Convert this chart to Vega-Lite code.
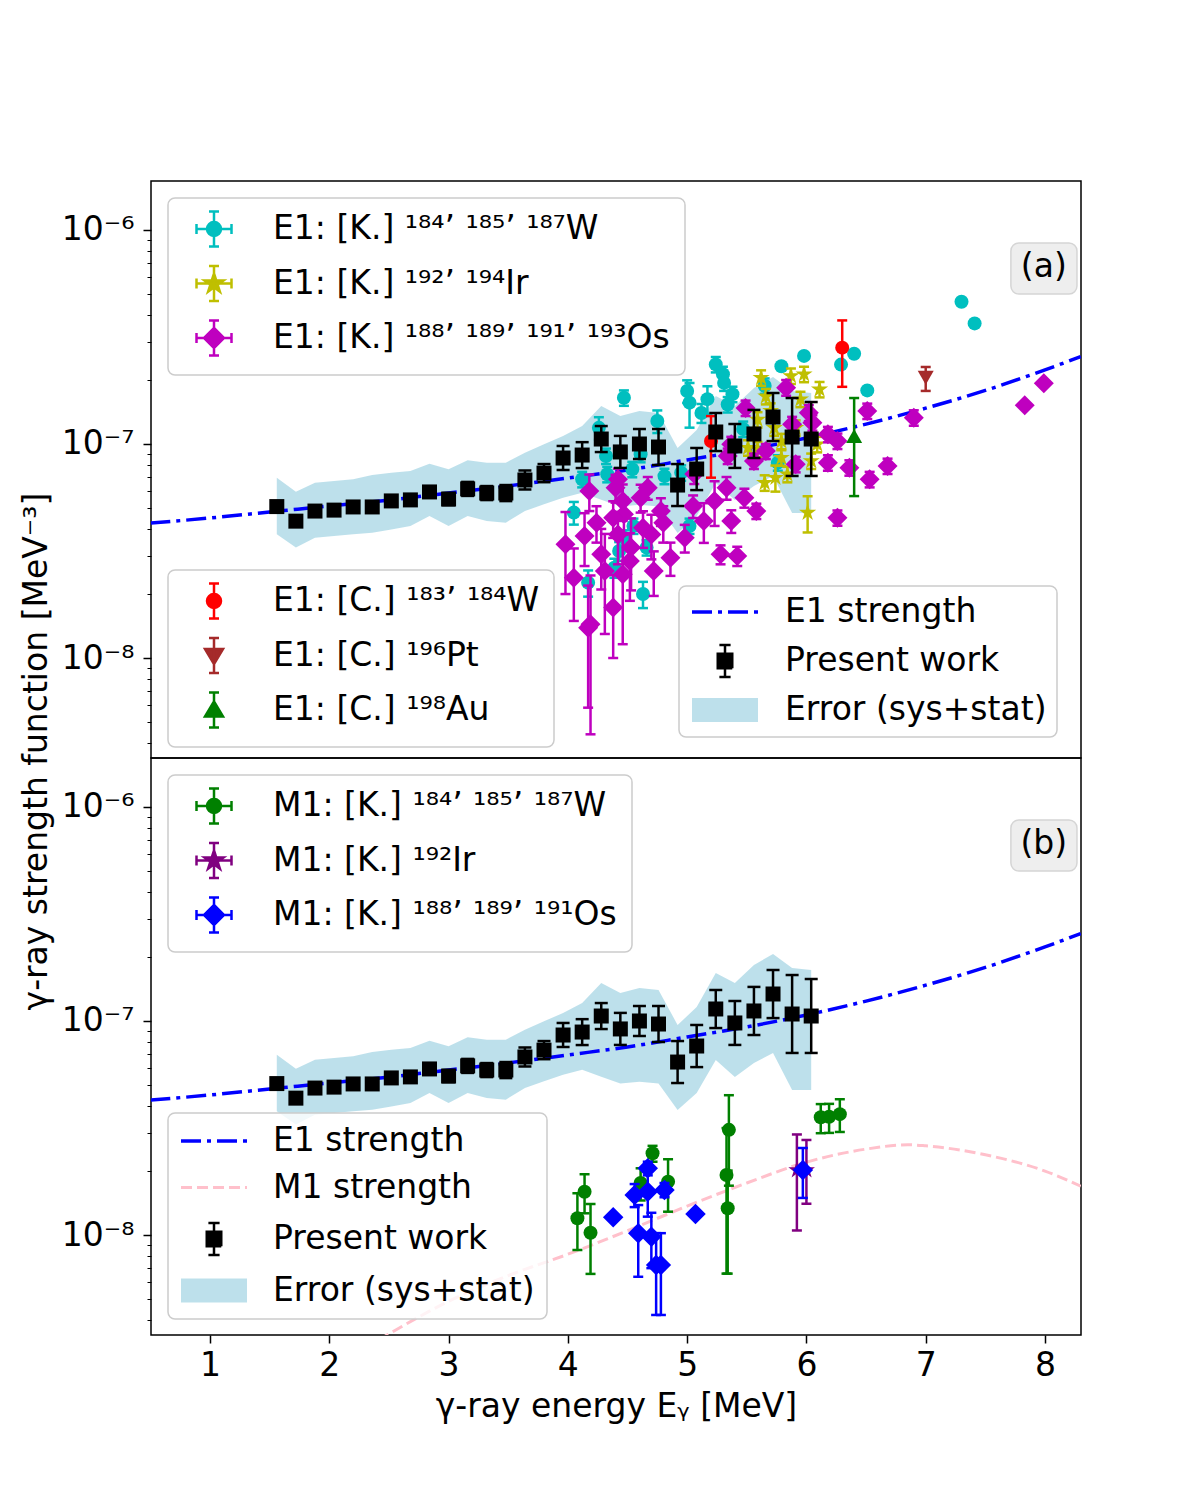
{
  "$schema": "https://vega.github.io/schema/vega-lite/v6.json",
  "background": "white",
  "padding": {"left": 19, "top": 180, "right": 10, "bottom": 10},
  "spacing": 0,
  "bounds": "flush",
  "config": {
    "font": "DejaVu Sans",
    "view": {"stroke": "black", "strokeWidth": 1.5},
    "point": {"opacity": 1},
    "tick": {"opacity": 1},
    "axis": {"labelFont": "DejaVu Sans", "titleFont": "DejaVu Sans", "labelColor": "black", "titleColor": "black"},
    "legend": {"labelFont": "DejaVu Sans", "labelColor": "black"}
  },
  "datasets": {
    "present": [
      {"E": 1.56, "v": 5.1e-8, "lo": 4.89e-8, "hi": 5.32e-8},
      {"E": 1.72, "v": 4.36e-8, "lo": 4.18e-8, "hi": 4.55e-8},
      {"E": 1.88, "v": 4.86e-8, "lo": 4.66e-8, "hi": 5.07e-8},
      {"E": 2.04, "v": 4.91e-8, "lo": 4.70e-8, "hi": 5.13e-8},
      {"E": 2.20, "v": 5.08e-8, "lo": 4.87e-8, "hi": 5.30e-8},
      {"E": 2.36, "v": 5.08e-8, "lo": 4.87e-8, "hi": 5.30e-8},
      {"E": 2.52, "v": 5.42e-8, "lo": 5.19e-8, "hi": 5.66e-8},
      {"E": 2.68, "v": 5.48e-8, "lo": 5.25e-8, "hi": 5.72e-8},
      {"E": 2.84, "v": 5.97e-8, "lo": 5.72e-8, "hi": 6.23e-8},
      {"E": 3.00, "v": 5.53e-8, "lo": 5.18e-8, "hi": 5.90e-8},
      {"E": 3.16, "v": 6.17e-8, "lo": 5.72e-8, "hi": 6.65e-8},
      {"E": 3.32, "v": 5.90e-8, "lo": 5.47e-8, "hi": 6.36e-8},
      {"E": 3.48, "v": 5.90e-8, "lo": 5.41e-8, "hi": 6.43e-8},
      {"E": 3.64, "v": 6.79e-8, "lo": 6.13e-8, "hi": 7.52e-8},
      {"E": 3.80, "v": 7.31e-8, "lo": 6.63e-8, "hi": 8.06e-8},
      {"E": 3.96, "v": 8.6e-8, "lo": 7.56e-8, "hi": 9.79e-8},
      {"E": 4.12, "v": 8.88e-8, "lo": 7.72e-8, "hi": 1.02e-7},
      {"E": 4.28, "v": 1.055e-7, "lo": 9.17e-8, "hi": 1.213e-7},
      {"E": 4.44, "v": 9.18e-8, "lo": 7.73e-8, "hi": 1.091e-7},
      {"E": 4.60, "v": 1.0e-7, "lo": 8.51e-8, "hi": 1.175e-7},
      {"E": 4.76, "v": 9.68e-8, "lo": 7.97e-8, "hi": 1.175e-7},
      {"E": 4.92, "v": 6.43e-8, "lo": 5.13e-8, "hi": 8.06e-8},
      {"E": 5.08, "v": 7.64e-8, "lo": 6.09e-8, "hi": 9.58e-8},
      {"E": 5.24, "v": 1.138e-7, "lo": 9.27e-8, "hi": 1.396e-7},
      {"E": 5.40, "v": 9.79e-8, "lo": 7.73e-8, "hi": 1.240e-7},
      {"E": 5.56, "v": 1.114e-7, "lo": 8.60e-8, "hi": 1.443e-7},
      {"E": 5.72, "v": 1.337e-7, "lo": 1.032e-7, "hi": 1.731e-7},
      {"E": 5.88, "v": 1.078e-7, "lo": 7.09e-8, "hi": 1.640e-7},
      {"E": 6.04, "v": 1.055e-7, "lo": 7.09e-8, "hi": 1.571e-7}
    ],
    "band": [
      {"E": 1.56, "lo": 3.79e-8, "hi": 6.96e-8, "s": "Error (sys+stat)"},
      {"E": 1.72, "lo": 3.28e-8, "hi": 5.98e-8, "s": "Error (sys+stat)"},
      {"E": 1.88, "lo": 3.65e-8, "hi": 6.59e-8, "s": "Error (sys+stat)"},
      {"E": 2.04, "lo": 3.72e-8, "hi": 6.72e-8, "s": "Error (sys+stat)"},
      {"E": 2.20, "lo": 3.79e-8, "hi": 6.84e-8, "s": "Error (sys+stat)"},
      {"E": 2.36, "lo": 3.85e-8, "hi": 7.16e-8, "s": "Error (sys+stat)"},
      {"E": 2.52, "lo": 3.99e-8, "hi": 7.34e-8, "s": "Error (sys+stat)"},
      {"E": 2.68, "lo": 4.14e-8, "hi": 7.48e-8, "s": "Error (sys+stat)"},
      {"E": 2.84, "lo": 4.61e-8, "hi": 8.09e-8, "s": "Error (sys+stat)"},
      {"E": 3.00, "lo": 4.14e-8, "hi": 7.62e-8, "s": "Error (sys+stat)"},
      {"E": 3.16, "lo": 4.61e-8, "hi": 8.39e-8, "s": "Error (sys+stat)"},
      {"E": 3.32, "lo": 4.37e-8, "hi": 8.18e-8, "s": "Error (sys+stat)"},
      {"E": 3.48, "lo": 4.29e-8, "hi": 8.18e-8, "s": "Error (sys+stat)"},
      {"E": 3.64, "lo": 4.86e-8, "hi": 9.11e-8, "s": "Error (sys+stat)"},
      {"E": 3.80, "lo": 5.23e-8, "hi": 9.97e-8, "s": "Error (sys+stat)"},
      {"E": 3.96, "lo": 5.61e-8, "hi": 1.090e-7, "s": "Error (sys+stat)"},
      {"E": 4.12, "lo": 5.92e-8, "hi": 1.214e-7, "s": "Error (sys+stat)"},
      {"E": 4.28, "lo": 5.49e-8, "hi": 1.504e-7, "s": "Error (sys+stat)"},
      {"E": 4.44, "lo": 5.11e-8, "hi": 1.351e-7, "s": "Error (sys+stat)"},
      {"E": 4.60, "lo": 5.20e-8, "hi": 1.426e-7, "s": "Error (sys+stat)"},
      {"E": 4.76, "lo": 5.11e-8, "hi": 1.396e-7, "s": "Error (sys+stat)"},
      {"E": 4.92, "lo": 3.84e-8, "hi": 9.58e-8, "s": "Error (sys+stat)"},
      {"E": 5.08, "lo": 4.61e-8, "hi": 1.162e-7, "s": "Error (sys+stat)"},
      {"E": 5.24, "lo": 6.57e-8, "hi": 1.676e-7, "s": "Error (sys+stat)"},
      {"E": 5.40, "lo": 5.47e-8, "hi": 1.504e-7, "s": "Error (sys+stat)"},
      {"E": 5.56, "lo": 6.36e-8, "hi": 1.827e-7, "s": "Error (sys+stat)"},
      {"E": 5.72, "lo": 7.09e-8, "hi": 2.056e-7, "s": "Error (sys+stat)"},
      {"E": 5.88, "lo": 4.76e-8, "hi": 1.769e-7, "s": "Error (sys+stat)"},
      {"E": 6.04, "lo": 4.76e-8, "hi": 1.731e-7, "s": "Error (sys+stat)"}
    ],
    "e1": [
      {"E": 0.5, "v": 4.27e-8}, {"E": 1.0, "v": 4.51e-8}, {"E": 1.5, "v": 4.81e-8},
      {"E": 2.0, "v": 5.13e-8}, {"E": 2.5, "v": 5.47e-8}, {"E": 3.0, "v": 5.90e-8},
      {"E": 3.5, "v": 6.37e-8}, {"E": 4.0, "v": 6.94e-8}, {"E": 4.5, "v": 7.56e-8},
      {"E": 5.0, "v": 8.42e-8}, {"E": 5.5, "v": 9.38e-8}, {"E": 6.0, "v": 1.067e-7},
      {"E": 6.5, "v": 1.239e-7}, {"E": 7.0, "v": 1.47e-7}, {"E": 7.5, "v": 1.78e-7},
      {"E": 8.0, "v": 2.22e-7}, {"E": 8.3, "v": 2.56e-7}
    ],
    "m1": [
      {"E": 2.3, "v": 2.97e-9}, {"E": 2.5, "v": 3.45e-9}, {"E": 3.0, "v": 4.9e-9},
      {"E": 3.5, "v": 6.46e-9}, {"E": 4.0, "v": 8.13e-9}, {"E": 4.5, "v": 1.047e-8},
      {"E": 5.0, "v": 1.365e-8}, {"E": 5.5, "v": 1.75e-8}, {"E": 6.0, "v": 2.19e-8},
      {"E": 6.5, "v": 2.52e-8}, {"E": 6.85, "v": 2.64e-8}, {"E": 7.0, "v": 2.61e-8},
      {"E": 7.5, "v": 2.37e-8}, {"E": 8.0, "v": 1.99e-8}, {"E": 8.3, "v": 1.69e-8}
    ],
    "kw": [
      {"E": 4.47, "v": 1.644e-7, "lo": 1.508e-7, "hi": 1.780e-7, "s": "kw"},
      {"E": 5.24, "v": 2.355e-7, "lo": 2.16e-7, "hi": 2.55e-7, "s": "kw"},
      {"E": 5.30, "v": 2.12e-7, "lo": 1.944e-7, "hi": 2.296e-7, "s": "kw"},
      {"E": 5.31, "v": 1.93e-7, "lo": 1.77e-7, "hi": 2.09e-7, "s": "kw"},
      {"E": 5.00, "v": 1.77e-7, "lo": 1.556e-7, "hi": 1.984e-7, "s": "kw"},
      {"E": 5.02, "v": 1.56e-7, "lo": 1.192e-7, "hi": 1.928e-7, "s": "kw"},
      {"E": 5.17, "v": 1.62e-7, "lo": 1.379e-7, "hi": 1.861e-7, "s": "kw"},
      {"E": 5.38, "v": 1.71e-7, "lo": 1.568e-7, "hi": 1.852e-7, "s": "kw"},
      {"E": 5.34, "v": 1.53e-7, "lo": 1.403e-7, "hi": 1.657e-7, "s": "kw"},
      {"E": 4.75, "v": 1.28e-7, "lo": 1.125e-7, "hi": 1.435e-7, "s": "kw"},
      {"E": 4.26, "v": 1.19e-7, "lo": 1.046e-7, "hi": 1.334e-7, "s": "kw"},
      {"E": 4.32, "v": 8.79e-8, "lo": 8.06e-8, "hi": 9.52e-8, "s": "kw"},
      {"E": 4.61, "v": 8.95e-8, "lo": 8.21e-8, "hi": 9.69e-8, "s": "kw"},
      {"E": 4.54, "v": 7.62e-8, "lo": 6.99e-8, "hi": 8.25e-8, "s": "kw"},
      {"E": 4.33, "v": 7.22e-8, "lo": 6.62e-8, "hi": 7.82e-8, "s": "kw"},
      {"E": 4.12, "v": 6.84e-8, "lo": 6.27e-8, "hi": 7.41e-8, "s": "kw"},
      {"E": 4.05, "v": 4.78e-8, "lo": 4.20e-8, "hi": 5.36e-8, "s": "kw"},
      {"E": 4.95, "v": 7.34e-8, "lo": 6.73e-8, "hi": 7.95e-8, "s": "kw"},
      {"E": 5.02, "v": 4.14e-8, "lo": 3.80e-8, "hi": 4.48e-8, "s": "kw"},
      {"E": 4.43, "v": 3.16e-8, "lo": 2.84e-8, "hi": 3.48e-8, "s": "kw"},
      {"E": 4.66, "v": 3.28e-8, "lo": 3.01e-8, "hi": 3.55e-8, "s": "kw"},
      {"E": 4.39, "v": 2.64e-8, "lo": 2.37e-8, "hi": 2.91e-8, "s": "kw"},
      {"E": 4.17, "v": 2.25e-8, "lo": 1.935e-8, "hi": 2.565e-8, "s": "kw"},
      {"E": 4.63, "v": 1.99e-8, "lo": 1.711e-8, "hi": 2.269e-8, "s": "kw"},
      {"E": 4.47, "v": 3.65e-8, "lo": 3.35e-8, "hi": 3.95e-8, "s": "kw"},
      {"E": 5.79, "v": 2.31e-7, "lo": 2.31e-7, "hi": 2.31e-7, "s": "kw"},
      {"E": 5.98, "v": 2.58e-7, "lo": 2.58e-7, "hi": 2.58e-7, "s": "kw"},
      {"E": 6.40, "v": 2.64e-7, "lo": 2.64e-7, "hi": 2.64e-7, "s": "kw"},
      {"E": 6.29, "v": 2.35e-7, "lo": 2.35e-7, "hi": 2.35e-7, "s": "kw"},
      {"E": 6.51, "v": 1.78e-7, "lo": 1.78e-7, "hi": 1.78e-7, "s": "kw"},
      {"E": 7.30, "v": 4.62e-7, "lo": 4.62e-7, "hi": 4.62e-7, "s": "kw"},
      {"E": 7.41, "v": 3.66e-7, "lo": 3.66e-7, "hi": 3.66e-7, "s": "kw"},
      {"E": 5.65, "v": 1.87e-7, "lo": 1.715e-7, "hi": 2.025e-7, "s": "kw"},
      {"E": 5.76, "v": 8.18e-8, "lo": 7.50e-8, "hi": 8.86e-8, "s": "kw"},
      {"E": 5.47, "v": 1.175e-7, "lo": 1.077e-7, "hi": 1.273e-7, "s": "kw"},
      {"E": 5.12, "v": 1.396e-7, "lo": 1.254e-7, "hi": 1.538e-7, "s": "kw"},
      {"E": 4.81, "v": 7.08e-8, "lo": 6.49e-8, "hi": 7.67e-8, "s": "kw"},
      {"E": 4.55, "v": 4.14e-8, "lo": 3.80e-8, "hi": 4.48e-8, "s": "kw"}
    ],
    "kir": [
      {"E": 5.62, "v": 2.04e-7, "lo": 1.871e-7, "hi": 2.209e-7, "s": "kir"},
      {"E": 5.87, "v": 2.08e-7, "lo": 1.907e-7, "hi": 2.253e-7, "s": "kir"},
      {"E": 5.98, "v": 2.12e-7, "lo": 1.944e-7, "hi": 2.296e-7, "s": "kir"},
      {"E": 6.11, "v": 1.80e-7, "lo": 1.651e-7, "hi": 1.949e-7, "s": "kir"},
      {"E": 5.66, "v": 1.67e-7, "lo": 1.531e-7, "hi": 1.809e-7, "s": "kir"},
      {"E": 5.95, "v": 1.62e-7, "lo": 1.486e-7, "hi": 1.754e-7, "s": "kir"},
      {"E": 5.59, "v": 1.30e-7, "lo": 1.192e-7, "hi": 1.408e-7, "s": "kir"},
      {"E": 5.73, "v": 1.19e-7, "lo": 1.091e-7, "hi": 1.289e-7, "s": "kir"},
      {"E": 5.91, "v": 1.19e-7, "lo": 1.091e-7, "hi": 1.289e-7, "s": "kir"},
      {"E": 5.79, "v": 1.03e-7, "lo": 9.45e-8, "hi": 1.115e-7, "s": "kir"},
      {"E": 5.59, "v": 9.45e-8, "lo": 8.67e-8, "hi": 1.023e-7, "s": "kir"},
      {"E": 5.79, "v": 8.63e-8, "lo": 7.91e-8, "hi": 9.35e-8, "s": "kir"},
      {"E": 5.65, "v": 6.59e-8, "lo": 6.04e-8, "hi": 7.14e-8, "s": "kir"},
      {"E": 5.74, "v": 6.96e-8, "lo": 5.99e-8, "hi": 7.93e-8, "s": "kir"},
      {"E": 5.84, "v": 7.22e-8, "lo": 6.62e-8, "hi": 7.82e-8, "s": "kir"},
      {"E": 6.01, "v": 4.78e-8, "lo": 3.86e-8, "hi": 5.70e-8, "s": "kir"},
      {"E": 5.51, "v": 9.61e-8, "lo": 8.81e-8, "hi": 1.041e-7, "s": "kir"},
      {"E": 6.09, "v": 9.97e-8, "lo": 9.14e-8, "hi": 1.080e-7, "s": "kir"},
      {"E": 5.70, "v": 1.43e-7, "lo": 1.311e-7, "hi": 1.549e-7, "s": "kir"},
      {"E": 6.04, "v": 8.33e-8, "lo": 7.64e-8, "hi": 9.02e-8, "s": "kir"}
    ],
    "kos": [
      {"E": 4.18, "v": 6.03e-8, "lo": 4.86e-8, "hi": 7.20e-8, "s": "kos"},
      {"E": 3.98, "v": 3.40e-8, "lo": 1.99e-8, "hi": 4.81e-8, "s": "kos"},
      {"E": 4.14, "v": 3.72e-8, "lo": 2.69e-8, "hi": 4.75e-8, "s": "kos"},
      {"E": 4.05, "v": 2.37e-8, "lo": 1.49e-8, "hi": 3.25e-8, "s": "kos"},
      {"E": 4.17, "v": 1.385e-8, "lo": 5.86e-9, "hi": 2.18e-8, "s": "kos"},
      {"E": 4.19, "v": 1.437e-8, "lo": 4.40e-9, "hi": 2.43e-8, "s": "kos"},
      {"E": 4.24, "v": 4.29e-8, "lo": 3.46e-8, "hi": 5.12e-8, "s": "kos"},
      {"E": 4.28, "v": 3.05e-8, "lo": 2.09e-8, "hi": 4.01e-8, "s": "kos"},
      {"E": 4.31, "v": 2.55e-8, "lo": 1.295e-8, "hi": 3.80e-8, "s": "kos"},
      {"E": 4.38, "v": 1.72e-8, "lo": 1.00e-8, "hi": 2.44e-8, "s": "kos"},
      {"E": 4.40, "v": 6.25e-8, "lo": 5.32e-8, "hi": 7.18e-8, "s": "kos"},
      {"E": 4.46, "v": 5.42e-8, "lo": 4.37e-8, "hi": 6.47e-8, "s": "kos"},
      {"E": 4.47, "v": 4.69e-8, "lo": 3.78e-8, "hi": 5.60e-8, "s": "kos"},
      {"E": 4.42, "v": 3.78e-8, "lo": 2.74e-8, "hi": 4.82e-8, "s": "kos"},
      {"E": 4.52, "v": 2.84e-8, "lo": 1.85e-8, "hi": 3.83e-8, "s": "kos"},
      {"E": 4.46, "v": 2.46e-8, "lo": 1.16e-8, "hi": 3.76e-8, "s": "kos"},
      {"E": 4.53, "v": 3.28e-8, "lo": 2.07e-8, "hi": 4.49e-8, "s": "kos"},
      {"E": 4.61, "v": 5.61e-8, "lo": 4.78e-8, "hi": 6.45e-8, "s": "kos"},
      {"E": 4.67, "v": 6.25e-8, "lo": 5.49e-8, "hi": 7.01e-8, "s": "kos"},
      {"E": 4.63, "v": 4.06e-8, "lo": 3.27e-8, "hi": 4.85e-8, "s": "kos"},
      {"E": 4.70, "v": 3.78e-8, "lo": 2.89e-8, "hi": 4.67e-8, "s": "kos"},
      {"E": 4.78, "v": 4.86e-8, "lo": 4.14e-8, "hi": 5.58e-8, "s": "kos"},
      {"E": 4.80, "v": 4.29e-8, "lo": 3.46e-8, "hi": 5.12e-8, "s": "kos"},
      {"E": 4.72, "v": 2.55e-8, "lo": 1.95e-8, "hi": 3.15e-8, "s": "kos"},
      {"E": 4.86, "v": 2.94e-8, "lo": 2.42e-8, "hi": 3.46e-8, "s": "kos"},
      {"E": 4.98, "v": 3.65e-8, "lo": 3.11e-8, "hi": 4.19e-8, "s": "kos"},
      {"E": 5.05, "v": 5.13e-8, "lo": 4.51e-8, "hi": 5.75e-8, "s": "kos"},
      {"E": 5.14, "v": 4.37e-8, "lo": 3.45e-8, "hi": 5.29e-8, "s": "kos"},
      {"E": 5.23, "v": 5.42e-8, "lo": 4.14e-8, "hi": 6.70e-8, "s": "kos"},
      {"E": 5.33, "v": 6.25e-8, "lo": 5.49e-8, "hi": 7.01e-8, "s": "kos"},
      {"E": 5.37, "v": 4.37e-8, "lo": 3.84e-8, "hi": 4.90e-8, "s": "kos"},
      {"E": 5.48, "v": 5.61e-8, "lo": 5.04e-8, "hi": 6.18e-8, "s": "kos"},
      {"E": 5.28, "v": 3.05e-8, "lo": 2.74e-8, "hi": 3.36e-8, "s": "kos"},
      {"E": 5.42, "v": 3.00e-8, "lo": 2.69e-8, "hi": 3.31e-8, "s": "kos"},
      {"E": 5.49, "v": 1.473e-7, "lo": 1.351e-7, "hi": 1.595e-7, "s": "kos"},
      {"E": 5.56, "v": 8.33e-8, "lo": 7.64e-8, "hi": 9.02e-8, "s": "kos"},
      {"E": 5.06, "v": 7.24e-8, "lo": 6.50e-8, "hi": 7.98e-8, "s": "kos"},
      {"E": 5.34, "v": 8.79e-8, "lo": 8.06e-8, "hi": 9.52e-8, "s": "kos"},
      {"E": 4.42, "v": 6.84e-8, "lo": 6.01e-8, "hi": 7.67e-8, "s": "kos"},
      {"E": 4.38, "v": 4.52e-8, "lo": 3.64e-8, "hi": 5.40e-8, "s": "kos"},
      {"E": 5.83, "v": 1.833e-7, "lo": 1.68e-7, "hi": 1.99e-7, "s": "kos"},
      {"E": 6.02, "v": 1.40e-7, "lo": 1.28e-7, "hi": 1.52e-7, "s": "kos"},
      {"E": 6.05, "v": 1.258e-7, "lo": 1.154e-7, "hi": 1.362e-7, "s": "kos"},
      {"E": 5.88, "v": 1.236e-7, "lo": 1.133e-7, "hi": 1.339e-7, "s": "kos"},
      {"E": 6.18, "v": 1.110e-7, "lo": 1.018e-7, "hi": 1.202e-7, "s": "kos"},
      {"E": 6.26, "v": 1.033e-7, "lo": 9.47e-8, "hi": 1.119e-7, "s": "kos"},
      {"E": 5.91, "v": 8.04e-8, "lo": 7.37e-8, "hi": 8.71e-8, "s": "kos"},
      {"E": 6.18, "v": 8.18e-8, "lo": 7.50e-8, "hi": 8.86e-8, "s": "kos"},
      {"E": 6.36, "v": 7.75e-8, "lo": 7.11e-8, "hi": 8.39e-8, "s": "kos"},
      {"E": 6.51, "v": 1.426e-7, "lo": 1.308e-7, "hi": 1.544e-7, "s": "kos"},
      {"E": 6.53, "v": 6.84e-8, "lo": 6.27e-8, "hi": 7.41e-8, "s": "kos"},
      {"E": 6.68, "v": 7.89e-8, "lo": 7.24e-8, "hi": 8.54e-8, "s": "kos"},
      {"E": 6.26, "v": 4.52e-8, "lo": 4.15e-8, "hi": 4.89e-8, "s": "kos"},
      {"E": 5.58, "v": 4.86e-8, "lo": 4.46e-8, "hi": 5.26e-8, "s": "kos"},
      {"E": 5.37, "v": 9.97e-8, "lo": 9.14e-8, "hi": 1.08e-7, "s": "kos"},
      {"E": 6.90, "v": 1.327e-7, "lo": 1.217e-7, "hi": 1.437e-7, "s": "kos"},
      {"E": 7.83, "v": 1.516e-7, "lo": 1.516e-7, "hi": 1.516e-7, "s": "kos"},
      {"E": 7.99, "v": 1.921e-7, "lo": 1.921e-7, "hi": 1.921e-7, "s": "kos"},
      {"E": 5.66, "v": 9.27e-8, "lo": 8.5e-8, "hi": 1.0e-7, "s": "kos"}
    ],
    "cw": [
      {"E": 5.20, "v": 1.033e-7, "lo": 6.96e-8, "hi": 1.35e-7, "s": "cw"},
      {"E": 6.30, "v": 2.82e-7, "lo": 1.85e-7, "hi": 3.78e-7, "s": "cw"}
    ],
    "cpt": [
      {"E": 7.00, "v": 2.04e-7, "lo": 1.77e-7, "hi": 2.29e-7, "s": "cpt"}
    ],
    "cau": [
      {"E": 6.40, "v": 1.09e-7, "lo": 5.71e-8, "hi": 1.64e-7, "s": "cau"}
    ],
    "mw": [
      {"E": 4.08, "v": 1.197e-8, "lo": 8.51e-9, "hi": 1.567e-8, "s": "mw"},
      {"E": 4.14, "v": 1.593e-8, "lo": 1.263e-8, "hi": 1.923e-8, "s": "mw"},
      {"E": 4.19, "v": 1.025e-8, "lo": 6.58e-9, "hi": 1.396e-8, "s": "mw"},
      {"E": 4.71, "v": 2.41e-8, "lo": 2.20e-8, "hi": 2.61e-8, "s": "mw"},
      {"E": 4.61, "v": 1.75e-8, "lo": 1.45e-8, "hi": 2.05e-8, "s": "mw"},
      {"E": 4.84, "v": 1.775e-8, "lo": 1.285e-8, "hi": 2.26e-8, "s": "mw"},
      {"E": 5.35, "v": 3.10e-8, "lo": 1.70e-8, "hi": 4.50e-8, "s": "mw"},
      {"E": 5.33, "v": 1.907e-8, "lo": 6.6e-9, "hi": 3.16e-8, "s": "mw"},
      {"E": 5.34, "v": 1.333e-8, "lo": 6.6e-9, "hi": 2.0e-8, "s": "mw"},
      {"E": 6.12, "v": 3.55e-8, "lo": 2.99e-8, "hi": 4.09e-8, "s": "mw"},
      {"E": 6.19, "v": 3.57e-8, "lo": 3.0e-8, "hi": 4.1e-8, "s": "mw"},
      {"E": 6.28, "v": 3.67e-8, "lo": 3.03e-8, "hi": 4.31e-8, "s": "mw"}
    ],
    "mir": [
      {"E": 5.92, "v": 2.01e-8, "lo": 1.05e-8, "hi": 2.95e-8, "s": "mir"},
      {"E": 6.00, "v": 2.01e-8, "lo": 1.40e-8, "hi": 2.78e-8, "s": "mir"}
    ],
    "mos": [
      {"E": 4.38, "v": 1.21e-8, "lo": 1.21e-8, "hi": 1.21e-8, "s": "mos"},
      {"E": 4.67, "v": 2.05e-8, "lo": 1.9e-8, "hi": 2.2e-8, "s": "mos"},
      {"E": 4.56, "v": 1.538e-8, "lo": 1.35e-8, "hi": 1.73e-8, "s": "mos"},
      {"E": 4.67, "v": 1.593e-8, "lo": 1.218e-8, "hi": 1.97e-8, "s": "mos"},
      {"E": 4.81, "v": 1.623e-8, "lo": 1.5e-8, "hi": 1.75e-8, "s": "mos"},
      {"E": 5.07, "v": 1.254e-8, "lo": 1.254e-8, "hi": 1.254e-8, "s": "mos"},
      {"E": 4.59, "v": 1.018e-8, "lo": 6.38e-9, "hi": 1.38e-8, "s": "mos"},
      {"E": 4.70, "v": 9.82e-9, "lo": 7.0e-9, "hi": 1.27e-8, "s": "mos"},
      {"E": 4.74, "v": 7.24e-9, "lo": 4.23e-9, "hi": 1.02e-8, "s": "mos"},
      {"E": 4.78, "v": 7.24e-9, "lo": 4.23e-9, "hi": 1.02e-8, "s": "mos"},
      {"E": 5.97, "v": 2.01e-8, "lo": 1.49e-8, "hi": 2.55e-8, "s": "mos"}
    ]
  },
  "vconcat": [
    {
      "width": 930,
      "height": 577,
      "resolve": {"scale": {"fill": "independent"}, "axis": {"y": "independent"}},
      "layer": [
        {
          "data": {"name": "band"},
          "mark": {"type": "area", "opacity": 0.8},
          "encoding": {
            "x": {"field": "E", "type": "quantitative", "scale": {"domain": [0.5054, 8.3018], "nice": false, "zero": false}, "axis": null},
            "y": {"field": "lo", "type": "quantitative", "scale": {"type": "log", "domain": [3.41e-9, 1.694e-6], "nice": false},
              "axis": {"orient": "left", "values": [1e-8, 1e-7, 1e-6], "labelExpr": "datum.value < 5e-8 ? '10⁻⁸' : datum.value < 5e-7 ? '10⁻⁷' : '10⁻⁶'",
                "title": "γ-ray strength function [MeV⁻³]", "titleX": -115, "titleY": 570, "titleAngle": -90, "titleAlign": "center", "titleBaseline": "middle",
                "titleFontSize": 33, "titleFontWeight": "normal", "labelFontSize": 33, "tickSize": 8, "tickWidth": 1.5, "tickColor": "black",
                "labelPadding": 9, "domain": false, "grid": false}},
            "y2": {"field": "hi"},
            "fill": {"field": "s", "type": "nominal",
              "scale": {"domain": ["E1 strength", "Present work", "Error (sys+stat)"], "range": ["#0000ff", "#000000", "#add8e6"]},
              "legend": {"title": null, "orient": "none", "legendX": 528, "legendY": 405, "padding": 9.5, "rowPadding": 10, "symbolOffset": 20, "labelOffset": 43.5,
                "symbolSize": 100, "symbolStrokeWidth": 2.5, "labelFontSize": 33, "labelLimit": 900,
                "fillColor": "rgba(255,255,255,0.8)", "strokeColor": "#cccccc", "cornerRadius": 7,
                "encoding": {
                  "legend": {"strokeWidth": {"value": 1.5}},
                  "symbols": {
                    "size": {"value": 100},
                    "shape": {"value": {"expr": "datum.index === 0 ? 'M-6.6,0H6.6' : datum.index === 1 ? 'M0,-3.2V3.2M-1.12,-3.2H1.12M-1.12,3.2H1.12M-1.45,-1.45H1.45V1.45H-1.45Z' : 'M-6.6,-2.38H6.6V2.38H-6.6Z'"}},
                    "fill": {"value": {"expr": "datum.index === 0 ? 'transparent' : datum.index === 1 ? '#000000' : '#add8e6'"}},
                    "stroke": {"value": {"expr": "datum.index === 0 ? '#0000ff' : datum.index === 1 ? '#000000' : 'transparent'"}},
                    "strokeDash": {"value": {"expr": "datum.index === 0 ? [20, 6, 4, 6] : [1, 0]"}},
                    "strokeWidth": {"value": {"expr": "datum.index === 0 ? 3.5 : 2.5"}},
                    "fillOpacity": {"value": {"expr": "datum.index === 2 ? 0.8 : 1"}},
                    "opacity": {"value": 1}
                  }
                }}
            }
          }
        },
        {
          "data": {"name": "e1"},
          "mark": {"type": "line", "stroke": "#0000ff", "strokeWidth": 3.5, "strokeDash": [20, 6, 4, 6], "clip": true, "interpolate": "monotone"},
          "encoding": {
            "x": {"field": "E", "type": "quantitative", "scale": {"domain": [0.5054, 8.3018], "nice": false, "zero": false}, "axis": null},
            "y": {"field": "v", "type": "quantitative", "scale": {"type": "log", "domain": [3.41e-9, 1.694e-6], "nice": false},
              "axis": {"orient": "left", "values": [4e-9, 5e-9, 6e-9, 7e-9, 8e-9, 9e-9, 2e-8, 3e-8, 4e-8, 5e-8, 6e-8, 7e-8, 8e-8, 9e-8, 2e-7, 3e-7, 4e-7, 5e-7, 6e-7, 7e-7, 8e-7, 9e-7],
                "labels": false, "title": null, "tickSize": 4, "tickWidth": 1, "tickColor": "black", "domain": false, "grid": false}}
          }
        },
        {
          "layer": [
            {
              "data": {"name": "kw"},
              "transform": [{"filter": "datum.hi > datum.lo"}],
              "mark": {"type": "errorbar", "color": "#00bfbf", "thickness": 2.5, "ticks": {"size": 10, "opacity": 1}},
              "encoding": {
                "x": {"field": "E", "type": "quantitative", "scale": {"domain": [0.5054, 8.3018], "nice": false, "zero": false}, "axis": null},
                "y": {"field": "lo", "type": "quantitative", "scale": {"type": "log", "domain": [3.41e-9, 1.694e-6], "nice": false}, "axis": null},
                "y2": {"field": "hi"}
              }
            },
            {
              "data": {"name": "kw"},
              "mark": {"type": "point", "shape": "circle", "filled": true, "size": 196, "opacity": 1, "strokeWidth": 0},
              "encoding": {
                "x": {"field": "E", "type": "quantitative", "scale": {"domain": [0.5054, 8.3018], "nice": false, "zero": false}, "axis": null},
                "y": {"field": "v", "type": "quantitative", "scale": {"type": "log", "domain": [3.41e-9, 1.694e-6], "nice": false}, "axis": null},
                "fill": {"field": "s", "type": "nominal",
                  "scale": {"domain": ["kw", "kir", "kos"], "range": ["#00bfbf", "#bfbf00", "#bf00bf"]},
                  "legend": {"title": null, "orient": "none", "legendX": 17, "legendY": 17, "padding": 14.5, "rowPadding": 9.5, "symbolOffset": 15, "labelOffset": 42.5,
                    "symbolSize": 100, "symbolStrokeWidth": 2.5, "labelFontSize": 33, "labelLimit": 900,
                    "labelExpr": "datum.value === 'kw' ? 'E1: [K.] ¹⁸⁴’ ¹⁸⁵’ ¹⁸⁷W' : datum.value === 'kir' ? 'E1: [K.] ¹⁹²’ ¹⁹⁴Ir' : 'E1: [K.] ¹⁸⁸’ ¹⁸⁹’ ¹⁹¹’ ¹⁹³Os'",
                    "fillColor": "rgba(255,255,255,0.8)", "strokeColor": "#cccccc", "cornerRadius": 7,
                    "encoding": {
                      "legend": {"strokeWidth": {"value": 1.5}},
                      "symbols": {
                        "size": {"value": 100},
                        "shape": {"value": {"expr": "datum.index === 0 ? 'M-3.5,0H3.5M0,-3.5V3.5M-3.5,-1V1M3.5,-1V1M-1,-3.5H1M-1,3.5H1M1.4,0A1.4,1.4,0,1,1,-1.4,0A1.4,1.4,0,1,1,1.4,0Z' : datum.index === 1 ? 'M-3.5,0H3.5M0,-3.5V3.5M-3.5,-1V1M3.5,-1V1M-1,-3.5H1M-1,3.5H1M0,-2L0.447,-0.615L1.902,-0.618L0.723,0.235L1.176,1.618L0,0.76L-1.176,1.618L-0.723,0.235L-1.902,-0.618L-0.447,-0.615Z' : 'M-3.5,0H3.5M0,-3.5V3.5M-3.5,-1V1M3.5,-1V1M-1,-3.5H1M-1,3.5H1M0,-2L2,0L0,2L-2,0Z'"}},
                        "fill": {"value": {"expr": "datum.index === 0 ? '#00bfbf' : datum.index === 1 ? '#bfbf00' : '#bf00bf'"}},
                        "stroke": {"value": {"expr": "datum.index === 0 ? '#00bfbf' : datum.index === 1 ? '#bfbf00' : '#bf00bf'"}},
                        "strokeWidth": {"value": 2.5},
                        "opacity": {"value": 1}
                      }
                    }}
                }
              }
            },
            {
              "data": {"name": "kir"},
              "transform": [{"filter": "datum.hi > datum.lo"}],
              "mark": {"type": "errorbar", "color": "#bfbf00", "thickness": 2.5, "ticks": {"size": 10, "opacity": 1}},
              "encoding": {
                "x": {"field": "E", "type": "quantitative", "scale": {"domain": [0.5054, 8.3018], "nice": false, "zero": false}, "axis": null},
                "y": {"field": "lo", "type": "quantitative", "scale": {"type": "log", "domain": [3.41e-9, 1.694e-6], "nice": false}, "axis": null},
                "y2": {"field": "hi"}
              }
            },
            {
              "data": {"name": "kir"},
              "mark": {"type": "point", "shape": "M0,-1L0.225,-0.309L0.951,-0.309L0.363,0.118L0.588,0.809L0,0.382L-0.588,0.809L-0.363,0.118L-0.951,-0.309L-0.225,-0.309Z", "filled": true, "size": 324, "opacity": 1, "strokeWidth": 0},
              "encoding": {
                "x": {"field": "E", "type": "quantitative", "scale": {"domain": [0.5054, 8.3018], "nice": false, "zero": false}, "axis": null},
                "y": {"field": "v", "type": "quantitative", "scale": {"type": "log", "domain": [3.41e-9, 1.694e-6], "nice": false}, "axis": null},
                "fill": {"field": "s", "type": "nominal", "scale": {"domain": ["kw", "kir", "kos"], "range": ["#00bfbf", "#bfbf00", "#bf00bf"]}}
              }
            },
            {
              "data": {"name": "kos"},
              "transform": [{"filter": "datum.hi > datum.lo"}],
              "mark": {"type": "errorbar", "color": "#bf00bf", "thickness": 2.5, "ticks": {"size": 10, "opacity": 1}},
              "encoding": {
                "x": {"field": "E", "type": "quantitative", "scale": {"domain": [0.5054, 8.3018], "nice": false, "zero": false}, "axis": null},
                "y": {"field": "lo", "type": "quantitative", "scale": {"type": "log", "domain": [3.41e-9, 1.694e-6], "nice": false}, "axis": null},
                "y2": {"field": "hi"}
              }
            },
            {
              "data": {"name": "kos"},
              "mark": {"type": "point", "shape": "diamond", "filled": true, "size": 400, "opacity": 1, "strokeWidth": 0},
              "encoding": {
                "x": {"field": "E", "type": "quantitative", "scale": {"domain": [0.5054, 8.3018], "nice": false, "zero": false}, "axis": null},
                "y": {"field": "v", "type": "quantitative", "scale": {"type": "log", "domain": [3.41e-9, 1.694e-6], "nice": false}, "axis": null},
                "fill": {"field": "s", "type": "nominal", "scale": {"domain": ["kw", "kir", "kos"], "range": ["#00bfbf", "#bfbf00", "#bf00bf"]}}
              }
            }
          ]
        },
        {
          "layer": [
            {
              "data": {"name": "cw"},
              "mark": {"type": "errorbar", "color": "#ff0000", "thickness": 2.5, "ticks": {"size": 10, "opacity": 1}},
              "encoding": {
                "x": {"field": "E", "type": "quantitative", "scale": {"domain": [0.5054, 8.3018], "nice": false, "zero": false}, "axis": null},
                "y": {"field": "lo", "type": "quantitative", "scale": {"type": "log", "domain": [3.41e-9, 1.694e-6], "nice": false}, "axis": null},
                "y2": {"field": "hi"}
              }
            },
            {
              "data": {"name": "cw"},
              "mark": {"type": "point", "shape": "circle", "filled": true, "size": 196, "opacity": 1, "strokeWidth": 0},
              "encoding": {
                "x": {"field": "E", "type": "quantitative", "scale": {"domain": [0.5054, 8.3018], "nice": false, "zero": false}, "axis": null},
                "y": {"field": "v", "type": "quantitative", "scale": {"type": "log", "domain": [3.41e-9, 1.694e-6], "nice": false}, "axis": null},
                "fill": {"field": "s", "type": "nominal",
                  "scale": {"domain": ["cw", "cpt", "cau"], "range": ["#ff0000", "#a52a2a", "#008000"]},
                  "legend": {"title": null, "orient": "none", "legendX": 17, "legendY": 389, "padding": 14.5, "rowPadding": 9.5, "symbolOffset": 15, "labelOffset": 42.5,
                    "symbolSize": 100, "symbolStrokeWidth": 2.5, "labelFontSize": 33, "labelLimit": 900,
                    "labelExpr": "datum.value === 'cw' ? 'E1: [C.] ¹⁸³’ ¹⁸⁴W' : datum.value === 'cpt' ? 'E1: [C.] ¹⁹⁶Pt' : 'E1: [C.] ¹⁹⁸Au'",
                    "fillColor": "rgba(255,255,255,0.8)", "strokeColor": "#cccccc", "cornerRadius": 7,
                    "encoding": {
                      "legend": {"strokeWidth": {"value": 1.5}},
                      "symbols": {
                        "size": {"value": 100},
                        "shape": {"value": {"expr": "datum.index === 0 ? 'M0,-3.5V3.5M-1,-3.5H1M-1,3.5H1M1.4,0A1.4,1.4,0,1,1,-1.4,0A1.4,1.4,0,1,1,1.4,0Z' : datum.index === 1 ? 'M0,-3.5V3.5M-1,-3.5H1M-1,3.5H1M-1.8,-1.3L1.8,-1.3L0,1.7Z' : 'M0,-3.5V3.5M-1,-3.5H1M-1,3.5H1M-1.8,1.3L1.8,1.3L0,-1.7Z'"}},
                        "fill": {"value": {"expr": "datum.index === 0 ? '#ff0000' : datum.index === 1 ? '#a52a2a' : '#008000'"}},
                        "stroke": {"value": {"expr": "datum.index === 0 ? '#ff0000' : datum.index === 1 ? '#a52a2a' : '#008000'"}},
                        "strokeWidth": {"value": 2.5},
                        "opacity": {"value": 1}
                      }
                    }}
                }
              }
            },
            {
              "data": {"name": "cpt"},
              "mark": {"type": "errorbar", "color": "#a52a2a", "thickness": 2.5, "ticks": {"size": 10, "opacity": 1}},
              "encoding": {
                "x": {"field": "E", "type": "quantitative", "scale": {"domain": [0.5054, 8.3018], "nice": false, "zero": false}, "axis": null},
                "y": {"field": "lo", "type": "quantitative", "scale": {"type": "log", "domain": [3.41e-9, 1.694e-6], "nice": false}, "axis": null},
                "y2": {"field": "hi"}
              }
            },
            {
              "data": {"name": "cpt"},
              "mark": {"type": "point", "shape": "triangle-down", "filled": true, "size": 256, "opacity": 1, "strokeWidth": 0},
              "encoding": {
                "x": {"field": "E", "type": "quantitative", "scale": {"domain": [0.5054, 8.3018], "nice": false, "zero": false}, "axis": null},
                "y": {"field": "v", "type": "quantitative", "scale": {"type": "log", "domain": [3.41e-9, 1.694e-6], "nice": false}, "axis": null},
                "fill": {"field": "s", "type": "nominal", "scale": {"domain": ["cw", "cpt", "cau"], "range": ["#ff0000", "#a52a2a", "#008000"]}}
              }
            },
            {
              "data": {"name": "cau"},
              "mark": {"type": "errorbar", "color": "#008000", "thickness": 2.5, "ticks": {"size": 10, "opacity": 1}},
              "encoding": {
                "x": {"field": "E", "type": "quantitative", "scale": {"domain": [0.5054, 8.3018], "nice": false, "zero": false}, "axis": null},
                "y": {"field": "lo", "type": "quantitative", "scale": {"type": "log", "domain": [3.41e-9, 1.694e-6], "nice": false}, "axis": null},
                "y2": {"field": "hi"}
              }
            },
            {
              "data": {"name": "cau"},
              "mark": {"type": "point", "shape": "triangle-up", "filled": true, "size": 256, "opacity": 1, "strokeWidth": 0},
              "encoding": {
                "x": {"field": "E", "type": "quantitative", "scale": {"domain": [0.5054, 8.3018], "nice": false, "zero": false}, "axis": null},
                "y": {"field": "v", "type": "quantitative", "scale": {"type": "log", "domain": [3.41e-9, 1.694e-6], "nice": false}, "axis": null},
                "fill": {"field": "s", "type": "nominal", "scale": {"domain": ["cw", "cpt", "cau"], "range": ["#ff0000", "#a52a2a", "#008000"]}}
              }
            }
          ]
        },
        {
          "data": {"name": "present"},
          "mark": {"type": "errorbar", "color": "black", "thickness": 2.5, "ticks": {"size": 13, "opacity": 1}},
          "encoding": {
            "x": {"field": "E", "type": "quantitative", "scale": {"domain": [0.5054, 8.3018], "nice": false, "zero": false}, "axis": null},
            "y": {"field": "lo", "type": "quantitative", "scale": {"type": "log", "domain": [3.41e-9, 1.694e-6], "nice": false}, "axis": null},
            "y2": {"field": "hi"}
          }
        },
        {
          "data": {"name": "present"},
          "mark": {"type": "point", "shape": "square", "filled": true, "size": 225, "color": "black", "opacity": 1, "strokeWidth": 0},
          "encoding": {
            "x": {"field": "E", "type": "quantitative", "scale": {"domain": [0.5054, 8.3018], "nice": false, "zero": false}, "axis": null},
            "y": {"field": "v", "type": "quantitative", "scale": {"type": "log", "domain": [3.41e-9, 1.694e-6], "nice": false}, "axis": null}
          }
        },
        {
          "data": {"values": [{"label": "(a)"}]},
          "mark": {"type": "rect", "fill": "#eeeeee", "stroke": "#d5d5d5", "strokeWidth": 1.5, "cornerRadius": 8},
          "encoding": {
            "x": {"datum": 7.714, "type": "quantitative", "scale": {"domain": [0.5054, 8.3018], "nice": false, "zero": false}, "axis": null},
            "x2": {"datum": 8.268},
            "y": {"datum": 5.02e-7, "type": "quantitative", "scale": {"type": "log", "domain": [3.41e-9, 1.694e-6], "nice": false}, "axis": null},
            "y2": {"datum": 8.70e-7}
          }
        },
        {
          "data": {"values": [{"label": "(a)"}]},
          "mark": {"type": "text", "fontSize": 33, "align": "center", "baseline": "middle", "color": "black"},
          "encoding": {
            "x": {"datum": 7.99, "type": "quantitative", "scale": {"domain": [0.5054, 8.3018], "nice": false, "zero": false}, "axis": null},
            "y": {"datum": 6.71e-7, "type": "quantitative", "scale": {"type": "log", "domain": [3.41e-9, 1.694e-6], "nice": false}, "axis": null},
            "text": {"field": "label"}
          }
        }
      ]
    },
    {
      "width": 930,
      "height": 577,
      "resolve": {"scale": {"fill": "independent"}, "axis": {"x": "independent", "y": "independent"}},
      "layer": [
        {
          "data": {"name": "band"},
          "mark": {"type": "area", "opacity": 0.8},
          "encoding": {
            "x": {"field": "E", "type": "quantitative", "scale": {"domain": [0.5054, 8.3018], "nice": false, "zero": false},
              "axis": {"orient": "bottom", "values": [1, 2, 3, 4, 5, 6, 7, 8], "format": "d", "title": "γ-ray energy Eᵧ [MeV]", "titleFontSize": 33, "titleFontWeight": "normal",
                "labelFontSize": 33, "tickSize": 8, "tickWidth": 1.5, "tickColor": "black", "labelPadding": 6, "titlePadding": 8,
                "domain": false, "grid": false, "labelFlush": false}},
            "y": {"field": "lo", "type": "quantitative", "scale": {"type": "log", "domain": [3.41e-9, 1.694e-6], "nice": false},
              "axis": {"orient": "left", "values": [1e-8, 1e-7, 1e-6], "labelExpr": "datum.value < 5e-8 ? '10⁻⁸' : datum.value < 5e-7 ? '10⁻⁷' : '10⁻⁶'",
                "title": null, "labelFontSize": 33, "tickSize": 8, "tickWidth": 1.5, "tickColor": "black",
                "labelPadding": 9, "domain": false, "grid": false}},
            "y2": {"field": "hi"},
            "fill": {"field": "s", "type": "nominal",
              "scale": {"domain": ["E1 strength", "M1 strength", "Present work", "Error (sys+stat)"], "range": ["#0000ff", "#ffc0cb", "#000000", "#add8e6"]},
              "legend": {"title": null, "orient": "none", "legendX": 17, "legendY": 355, "padding": 11.5, "rowPadding": 12.5, "symbolOffset": 18, "labelOffset": 42.5,
                "symbolSize": 100, "symbolStrokeWidth": 2.5, "labelFontSize": 33, "labelLimit": 900,
                "fillColor": "rgba(255,255,255,0.8)", "strokeColor": "#cccccc", "cornerRadius": 7,
                "encoding": {
                  "legend": {"strokeWidth": {"value": 1.5}},
                  "symbols": {
                    "size": {"value": 100},
                    "shape": {"value": {"expr": "datum.index <= 1 ? 'M-6.6,0H6.6' : datum.index === 2 ? 'M0,-3.2V3.2M-1.12,-3.2H1.12M-1.12,3.2H1.12M-1.45,-1.45H1.45V1.45H-1.45Z' : 'M-6.6,-2.38H6.6V2.38H-6.6Z'"}},
                    "fill": {"value": {"expr": "datum.index <= 1 ? 'transparent' : datum.index === 2 ? '#000000' : '#add8e6'"}},
                    "stroke": {"value": {"expr": "datum.index === 0 ? '#0000ff' : datum.index === 1 ? '#ffc0cb' : datum.index === 2 ? '#000000' : 'transparent'"}},
                    "strokeDash": {"value": {"expr": "datum.index === 0 ? [20, 6, 4, 6] : datum.index === 1 ? [11, 5] : [1, 0]"}},
                    "strokeWidth": {"value": {"expr": "datum.index === 0 ? 3.5 : datum.index === 1 ? 3 : 2.5"}},
                    "fillOpacity": {"value": {"expr": "datum.index === 3 ? 0.8 : 1"}},
                    "opacity": {"value": 1}
                  }
                }}
            }
          }
        },
        {
          "data": {"name": "e1"},
          "mark": {"type": "line", "stroke": "#0000ff", "strokeWidth": 3.5, "strokeDash": [20, 6, 4, 6], "clip": true, "interpolate": "monotone"},
          "encoding": {
            "x": {"field": "E", "type": "quantitative", "scale": {"domain": [0.5054, 8.3018], "nice": false, "zero": false}, "axis": null},
            "y": {"field": "v", "type": "quantitative", "scale": {"type": "log", "domain": [3.41e-9, 1.694e-6], "nice": false},
              "axis": {"orient": "left", "values": [4e-9, 5e-9, 6e-9, 7e-9, 8e-9, 9e-9, 2e-8, 3e-8, 4e-8, 5e-8, 6e-8, 7e-8, 8e-8, 9e-8, 2e-7, 3e-7, 4e-7, 5e-7, 6e-7, 7e-7, 8e-7, 9e-7],
                "labels": false, "title": null, "tickSize": 4, "tickWidth": 1, "tickColor": "black", "domain": false, "grid": false}}
          }
        },
        {
          "data": {"name": "m1"},
          "mark": {"type": "line", "stroke": "#ffc0cb", "strokeWidth": 3, "strokeDash": [11, 5], "clip": true, "interpolate": "monotone"},
          "encoding": {
            "x": {"field": "E", "type": "quantitative", "scale": {"domain": [0.5054, 8.3018], "nice": false, "zero": false}, "axis": null},
            "y": {"field": "v", "type": "quantitative", "scale": {"type": "log", "domain": [3.41e-9, 1.694e-6], "nice": false}, "axis": null}
          }
        },
        {
          "layer": [
            {
              "data": {"name": "mw"},
              "mark": {"type": "errorbar", "color": "#008000", "thickness": 2.5, "ticks": {"size": 10, "opacity": 1}},
              "encoding": {
                "x": {"field": "E", "type": "quantitative", "scale": {"domain": [0.5054, 8.3018], "nice": false, "zero": false}, "axis": null},
                "y": {"field": "lo", "type": "quantitative", "scale": {"type": "log", "domain": [3.41e-9, 1.694e-6], "nice": false}, "axis": null},
                "y2": {"field": "hi"}
              }
            },
            {
              "data": {"name": "mw"},
              "mark": {"type": "point", "shape": "circle", "filled": true, "size": 196, "opacity": 1, "strokeWidth": 0},
              "encoding": {
                "x": {"field": "E", "type": "quantitative", "scale": {"domain": [0.5054, 8.3018], "nice": false, "zero": false}, "axis": null},
                "y": {"field": "v", "type": "quantitative", "scale": {"type": "log", "domain": [3.41e-9, 1.694e-6], "nice": false}, "axis": null},
                "fill": {"field": "s", "type": "nominal",
                  "scale": {"domain": ["mw", "mir", "mos"], "range": ["#008000", "#800080", "#0000ff"]},
                  "legend": {"title": null, "orient": "none", "legendX": 17, "legendY": 17, "padding": 14.5, "rowPadding": 9.5, "symbolOffset": 15, "labelOffset": 42.5,
                    "symbolSize": 100, "symbolStrokeWidth": 2.5, "labelFontSize": 33, "labelLimit": 900,
                    "labelExpr": "datum.value === 'mw' ? 'M1: [K.] ¹⁸⁴’ ¹⁸⁵’ ¹⁸⁷W' : datum.value === 'mir' ? 'M1: [K.] ¹⁹²Ir' : 'M1: [K.] ¹⁸⁸’ ¹⁸⁹’ ¹⁹¹Os'",
                    "fillColor": "rgba(255,255,255,0.8)", "strokeColor": "#cccccc", "cornerRadius": 7,
                    "encoding": {
                      "legend": {"strokeWidth": {"value": 1.5}},
                      "symbols": {
                        "size": {"value": 100},
                        "shape": {"value": {"expr": "datum.index === 0 ? 'M-3.5,0H3.5M0,-3.5V3.5M-3.5,-1V1M3.5,-1V1M-1,-3.5H1M-1,3.5H1M1.4,0A1.4,1.4,0,1,1,-1.4,0A1.4,1.4,0,1,1,1.4,0Z' : datum.index === 1 ? 'M-3.5,0H3.5M0,-3.5V3.5M-3.5,-1V1M3.5,-1V1M-1,-3.5H1M-1,3.5H1M0,-2L0.447,-0.615L1.902,-0.618L0.723,0.235L1.176,1.618L0,0.76L-1.176,1.618L-0.723,0.235L-1.902,-0.618L-0.447,-0.615Z' : 'M-3.5,0H3.5M0,-3.5V3.5M-3.5,-1V1M3.5,-1V1M-1,-3.5H1M-1,3.5H1M0,-2L2,0L0,2L-2,0Z'"}},
                        "fill": {"value": {"expr": "datum.index === 0 ? '#008000' : datum.index === 1 ? '#800080' : '#0000ff'"}},
                        "stroke": {"value": {"expr": "datum.index === 0 ? '#008000' : datum.index === 1 ? '#800080' : '#0000ff'"}},
                        "strokeWidth": {"value": 2.5},
                        "opacity": {"value": 1}
                      }
                    }}
                }
              }
            },
            {
              "data": {"name": "mir"},
              "mark": {"type": "errorbar", "color": "#800080", "thickness": 2.5, "ticks": {"size": 10, "opacity": 1}},
              "encoding": {
                "x": {"field": "E", "type": "quantitative", "scale": {"domain": [0.5054, 8.3018], "nice": false, "zero": false}, "axis": null},
                "y": {"field": "lo", "type": "quantitative", "scale": {"type": "log", "domain": [3.41e-9, 1.694e-6], "nice": false}, "axis": null},
                "y2": {"field": "hi"}
              }
            },
            {
              "data": {"name": "mir"},
              "mark": {"type": "point", "shape": "M0,-1L0.225,-0.309L0.951,-0.309L0.363,0.118L0.588,0.809L0,0.382L-0.588,0.809L-0.363,0.118L-0.951,-0.309L-0.225,-0.309Z", "filled": true, "size": 324, "opacity": 1, "strokeWidth": 0},
              "encoding": {
                "x": {"field": "E", "type": "quantitative", "scale": {"domain": [0.5054, 8.3018], "nice": false, "zero": false}, "axis": null},
                "y": {"field": "v", "type": "quantitative", "scale": {"type": "log", "domain": [3.41e-9, 1.694e-6], "nice": false}, "axis": null},
                "fill": {"field": "s", "type": "nominal", "scale": {"domain": ["mw", "mir", "mos"], "range": ["#008000", "#800080", "#0000ff"]}}
              }
            },
            {
              "data": {"name": "mos"},
              "transform": [{"filter": "datum.hi > datum.lo"}],
              "mark": {"type": "errorbar", "color": "#0000ff", "thickness": 2.5, "ticks": {"size": 10, "opacity": 1}},
              "encoding": {
                "x": {"field": "E", "type": "quantitative", "scale": {"domain": [0.5054, 8.3018], "nice": false, "zero": false}, "axis": null},
                "y": {"field": "lo", "type": "quantitative", "scale": {"type": "log", "domain": [3.41e-9, 1.694e-6], "nice": false}, "axis": null},
                "y2": {"field": "hi"}
              }
            },
            {
              "data": {"name": "mos"},
              "mark": {"type": "point", "shape": "diamond", "filled": true, "size": 420, "opacity": 1, "strokeWidth": 0},
              "encoding": {
                "x": {"field": "E", "type": "quantitative", "scale": {"domain": [0.5054, 8.3018], "nice": false, "zero": false}, "axis": null},
                "y": {"field": "v", "type": "quantitative", "scale": {"type": "log", "domain": [3.41e-9, 1.694e-6], "nice": false}, "axis": null},
                "fill": {"field": "s", "type": "nominal", "scale": {"domain": ["mw", "mir", "mos"], "range": ["#008000", "#800080", "#0000ff"]}}
              }
            }
          ]
        },
        {
          "data": {"name": "present"},
          "mark": {"type": "errorbar", "color": "black", "thickness": 2.5, "ticks": {"size": 13, "opacity": 1}},
          "encoding": {
            "x": {"field": "E", "type": "quantitative", "scale": {"domain": [0.5054, 8.3018], "nice": false, "zero": false}, "axis": null},
            "y": {"field": "lo", "type": "quantitative", "scale": {"type": "log", "domain": [3.41e-9, 1.694e-6], "nice": false}, "axis": null},
            "y2": {"field": "hi"}
          }
        },
        {
          "data": {"name": "present"},
          "mark": {"type": "point", "shape": "square", "filled": true, "size": 225, "color": "black", "opacity": 1, "strokeWidth": 0},
          "encoding": {
            "x": {"field": "E", "type": "quantitative", "scale": {"domain": [0.5054, 8.3018], "nice": false, "zero": false}, "axis": null},
            "y": {"field": "v", "type": "quantitative", "scale": {"type": "log", "domain": [3.41e-9, 1.694e-6], "nice": false}, "axis": null}
          }
        },
        {
          "data": {"values": [{"label": "(b)"}]},
          "mark": {"type": "rect", "fill": "#eeeeee", "stroke": "#d5d5d5", "strokeWidth": 1.5, "cornerRadius": 8},
          "encoding": {
            "x": {"datum": 7.714, "type": "quantitative", "scale": {"domain": [0.5054, 8.3018], "nice": false, "zero": false}, "axis": null},
            "x2": {"datum": 8.268},
            "y": {"datum": 5.02e-7, "type": "quantitative", "scale": {"type": "log", "domain": [3.41e-9, 1.694e-6], "nice": false}, "axis": null},
            "y2": {"datum": 8.70e-7}
          }
        },
        {
          "data": {"values": [{"label": "(b)"}]},
          "mark": {"type": "text", "fontSize": 33, "align": "center", "baseline": "middle", "color": "black"},
          "encoding": {
            "x": {"datum": 7.99, "type": "quantitative", "scale": {"domain": [0.5054, 8.3018], "nice": false, "zero": false}, "axis": null},
            "y": {"datum": 6.71e-7, "type": "quantitative", "scale": {"type": "log", "domain": [3.41e-9, 1.694e-6], "nice": false}, "axis": null},
            "text": {"field": "label"}
          }
        }
      ]
    }
  ]
}
